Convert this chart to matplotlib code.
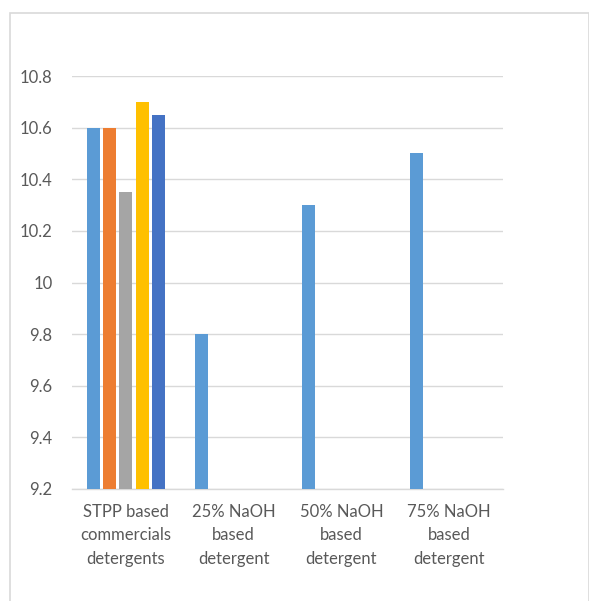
import numpy as np
import matplotlib.pyplot as plt
from matplotlib.patches import Rectangle

# categories and series values (only the first group has all five series)
categories = ['STPP based\ncommercials\ndetergents', '25% NaOH\nbased\ndetergent',
              '50% NaOH\nbased\ndetergent', '75% NaOH\nbased\ndetergent']
series1 = [10.6, 9.8, 10.3, 10.5]
series2 = [10.6, np.nan, np.nan, np.nan]
series3 = [10.35, np.nan, np.nan, np.nan]
series4 = [10.7, np.nan, np.nan, np.nan]
series5 = [10.65, np.nan, np.nan, np.nan]
yticks = [9.2, 9.4, 9.6, 9.8, 10, 10.2, 10.4, 10.6, 10.8]
ytick_labels = ['9.2', '9.4', '9.6', '9.8', '10', '10.2', '10.4', '10.6', '10.8']

colors = ['#5B9BD5', '#ED7D31', '#A5A5A5', '#FFC000', '#4472C4']
all_series = [series1, series2, series3, series4, series5]

plt.rcParams['font.family'] = ['Lato', 'DejaVu Sans']

fig = plt.figure(figsize=(5.89, 6.01), dpi=100)
ax = fig.add_axes([0.1222, 0.1864, 0.7318, 0.6871])

x = np.arange(len(categories))
step = 0.151
width = 0.121
for k, (vals, c) in enumerate(zip(all_series, colors)):
    ax.bar(x + (k - 2) * step, vals, width=width, color=c, bottom=0, zorder=3)

ax.set_xlim(-0.5, 3.5)
ax.set_ylim(9.2, 10.8)
ax.set_yticks(yticks)
ax.set_yticklabels(ytick_labels)
ax.set_xticks(x)
ax.set_xticklabels(categories, linespacing=1.55)
ax.tick_params(axis='y', length=0, pad=14, labelsize=12, labelcolor='#595959')
ax.tick_params(axis='x', length=0, pad=11, labelsize=12, labelcolor='#595959')
ax.grid(axis='y', color='#D9D9D9', linewidth=1.0, zorder=0)
for s in ['top', 'right', 'left']:
    ax.spines[s].set_visible(False)
ax.spines['bottom'].set_color('#D9D9D9')
ax.spines['bottom'].set_linewidth(1.0)

# chart area border
border = Rectangle((10 / 589, -0.1), (589 - 10) / 589, 1.1 - 13 / 601,
                   transform=fig.transFigure, fill=False, edgecolor='#D9D9D9',
                   linewidth=1.2, clip_on=False)
fig.patches.append(border)

fig.savefig('out.png', dpi=100)
